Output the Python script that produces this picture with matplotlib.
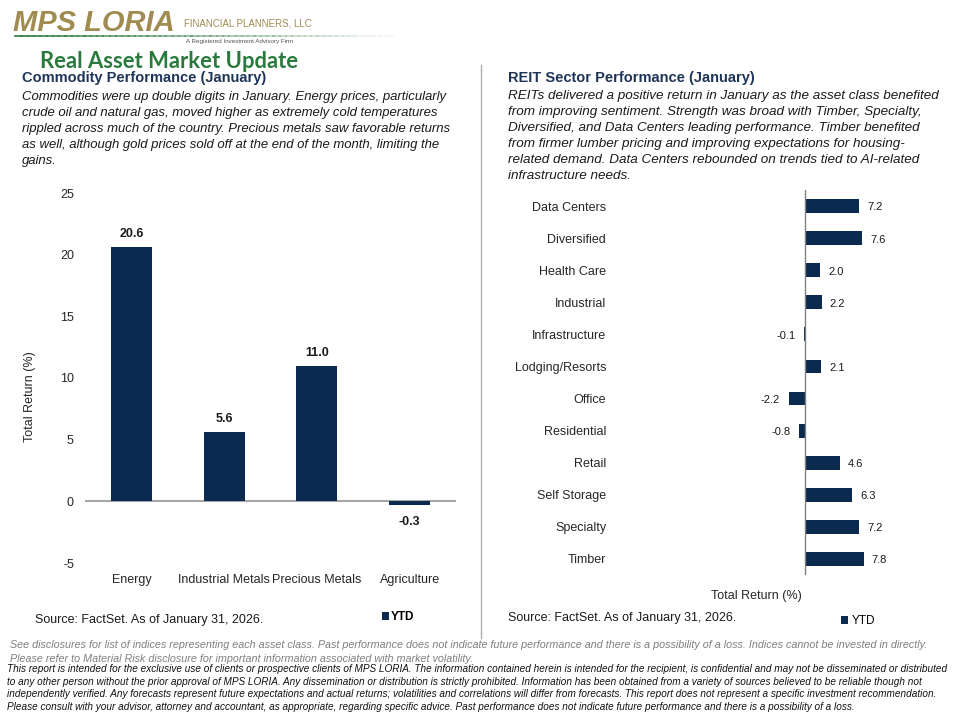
# Real Asset Market Update: materias primas y REITs (enero)
import matplotlib
matplotlib.use("Agg")
import matplotlib.pyplot as plt
from matplotlib.lines import Line2D
import numpy as np

# datos del grafico izquierdo
Materias = ["Energy", "Industrial Metals", "Precious Metals", "Agriculture"]
RetornoMaterias = [20.6, 5.6, 11.0, -0.3]
TicksIzq = [-5, 0, 5, 10, 15, 20, 25]

# datos del grafico derecho
Sectores = ["Data Centers", "Diversified", "Health Care", "Industrial",
            "Infrastructure", "Lodging/Resorts", "Office", "Residential",
            "Retail", "Self Storage", "Specialty", "Timber"]
RetornoSectores = [7.2, 7.6, 2.0, 2.2, -0.1, 2.1, -2.2, -0.8, 4.6, 6.3, 7.2, 7.8]

# textos
TituloIzq = "Commodity Performance (January)"
ParrafoIzq = [
    "Commodities were up double digits in January. Energy prices, particularly",
    "crude oil and natural gas, moved higher as extremely cold temperatures",
    "rippled across much of the country. Precious metals saw favorable returns",
    "as well, although gold prices sold off at the end of the month, limiting the",
    "gains.",
]
TituloDer = "REIT Sector Performance (January)"
ParrafoDer = [
    "REITs delivered a positive return in January as the asset class benefited",
    "from improving sentiment. Strength was broad with Timber, Specialty,",
    "Diversified, and Data Centers leading performance. Timber benefited",
    "from firmer lumber pricing and improving expectations for housing-",
    "related demand. Data Centers rebounded on trends tied to AI-related",
    "infrastructure needs.",
]
Fuente = "Source: FactSet. As of January 31, 2026."
NotaGris = [
    "See disclosures for list of indices representing each asset class. Past performance does not indicate future performance and there is a possibility of a loss. Indices cannot be invested in directly.",
    "Please refer to Material Risk disclosure for important information associated with market volatility.",
]
NotaLegal = [
    "This report is intended for the exclusive use of clients or prospective clients of MPS LORIA. The information contained herein is intended for the recipient, is confidential and may not be disseminated or distributed",
    "to any other person without the prior approval of MPS LORIA. Any dissemination or distribution is strictly prohibited. Information has been obtained from a variety of sources believed to be reliable though not",
    "independently verified. Any forecasts represent future expectations and actual returns; volatilities and correlations will differ from forecasts. This report does not represent a specific investment recommendation.",
    "Please consult with your advisor, attorney and accountant, as appropriate, regarding specific advice. Past performance does not indicate future performance and there is a possibility of a loss.",
]

# colores
Azul = "#0b2a50"
Verde = "#2b7a3d"
Dorado = "#a08c50"
Navy = "#1f3558"

plt.rcParams["font.family"] = ["Liberation Sans", "DejaVu Sans"]
plt.rcParams["axes.unicode_minus"] = False

W, H = 960, 720
fig = plt.figure(figsize=(9.6, 7.2), dpi=100)


def px(x, y):
    return x / W, 1 - y / H


# encabezado con logo
fig.text(*px(13, 23), "MPS LORIA", color=Dorado, fontsize=21, fontweight="bold",
         fontstyle="italic", va="center", ha="left")
fig.text(*px(184, 23), "FINANCIAL PLANNERS, LLC", color=Dorado, fontsize=7,
         va="center", ha="left")
fig.text(*px(186, 42), "A Registered Investment Advisory Firm", color="#555555",
         fontsize=4.5, va="center", ha="left")
# linea verde degradada
for i in range(60):
    x0 = 15 + i * 6.3
    fig.add_artist(Line2D([x0 / W, (x0 + 6.5) / W], [1 - 36 / H, 1 - 36 / H],
                          color=Verde, lw=1.2, alpha=max(0.05, 1 - i / 60)))
fig.text(*px(40, 61), "Real Asset Market Update", color=Verde, fontsize=15.8,
         fontweight="bold", va="center", ha="left", family=["Lato", "DejaVu Sans"])

# textos de cada lado
fig.text(*px(22, 78), TituloIzq, color=Navy, fontsize=10.5, fontweight="bold",
         va="center", ha="left")
for k, linea in enumerate(ParrafoIzq):
    fig.text(*px(22, 97 + 16 * k), linea, fontsize=9.45, fontstyle="italic",
             color="#1a1a1a", va="center", ha="left")
fig.text(*px(508, 78), TituloDer, color=Navy, fontsize=10.5, fontweight="bold",
         va="center", ha="left")
for k, linea in enumerate(ParrafoDer):
    fig.text(*px(508, 96 + 16 * k), linea, fontsize=9.7, fontstyle="italic",
             color="#1a1a1a", va="center", ha="left")

# linea divisoria
fig.add_artist(Line2D([481 / W, 481 / W], [1 - 65 / H, 1 - 638 / H],
                      color="#b0b0b0", lw=1))

# grafico de materias primas
ax1 = fig.add_axes([85 / W, 1 - 563 / H, 371 / W, 370 / H])
pos = np.arange(len(Materias))
barras = ax1.bar(pos, RetornoMaterias, width=0.44, color=Azul, label="YTD")
ax1.axhline(0, color="#a6a6a6", lw=1.5, zorder=0)
ax1.set_xlim(-0.5, 3.5)
ax1.set_ylim(-5, 25)
ax1.set_yticks(TicksIzq)
ax1.set_xticks(pos)
ax1.set_xticklabels(Materias, fontsize=9)
ax1.tick_params(axis="both", length=0, labelsize=9, colors="#262626")
ax1.tick_params(axis="y", pad=8)
ax1.tick_params(axis="x", pad=8)
for s in ax1.spines.values():
    s.set_visible(False)
ax1.set_ylabel("Total Return (%)", fontsize=9, color="#262626")
ax1.yaxis.set_label_coords(-0.132, 0.45)
for b, v in zip(barras, RetornoMaterias):
    off = 5 if v >= 0 else -8
    ax1.annotate(f"{v:.1f}", (b.get_x() + b.get_width() / 2, v),
                 xytext=(0, off), textcoords="offset points", ha="center",
                 va="bottom" if v >= 0 else "top", fontsize=9,
                 fontweight="bold", color="#1a1a1a")
fig.legend(handles=[barras], labels=["YTD"], loc="center",
           bbox_to_anchor=(398 / W, 1 - 617 / H), frameon=False,
           handlelength=0.6, handleheight=0.6, handletextpad=0.2,
           prop={"size": 8.5, "weight": "bold"})
fig.text(*px(35, 620), Fuente, fontsize=9, color="#1a1a1a", va="center", ha="left")

# grafico de sectores REIT
ax2 = fig.add_axes([620 / W, 1 - 575 / H, 280 / W, 385 / H])
posy = np.arange(len(Sectores))
barras2 = ax2.barh(posy, RetornoSectores, height=0.43, color=Azul, label="YTD")
ax2.axvline(0, color="#808080", lw=1)
ax2.set_xlim(-(805 - 620) / 7.5, (900 - 805) / 7.5)
ax2.set_ylim(len(Sectores) - 0.5, -0.5)
ax2.set_yticks(posy)
ax2.set_yticklabels(Sectores)
ax2.set_xticks([])
ax2.tick_params(axis="y", length=0, labelsize=9, colors="#262626", pad=10)
for s in ax2.spines.values():
    s.set_visible(False)
ax2.set_xlabel("Total Return (%)", fontsize=9, color="#262626")
ax2.xaxis.set_label_coords(0.486, -0.04)
for b, v in zip(barras2, RetornoSectores):
    off = 6 if v >= 0 else -6
    ax2.annotate(f"{v:.1f}", (v, b.get_y() + b.get_height() / 2),
                 xytext=(off, -1), textcoords="offset points",
                 ha="left" if v >= 0 else "right", va="center", fontsize=8,
                 color="#1a1a1a")
fig.legend(handles=[barras2], labels=["YTD"], loc="center",
           bbox_to_anchor=(858 / W, 1 - 621 / H), frameon=False,
           handlelength=0.6, handleheight=0.6, handletextpad=0.3,
           prop={"size": 8.5})
fig.text(*px(508, 618), Fuente, fontsize=9, color="#1a1a1a", va="center", ha="left")

# notas al pie
for k, linea in enumerate(NotaGris):
    fig.text(*px(10, 645 + 14 * k), linea, fontsize=7.75, fontstyle="italic",
             color="#7f7f7f", va="center", ha="left")
for k, linea in enumerate(NotaLegal):
    fig.text(*px(7, 669 + 12.7 * k), linea, fontsize=7.2, fontstyle="italic",
             color="#111111", va="center", ha="left")

fig.savefig("out.png", dpi=100)
